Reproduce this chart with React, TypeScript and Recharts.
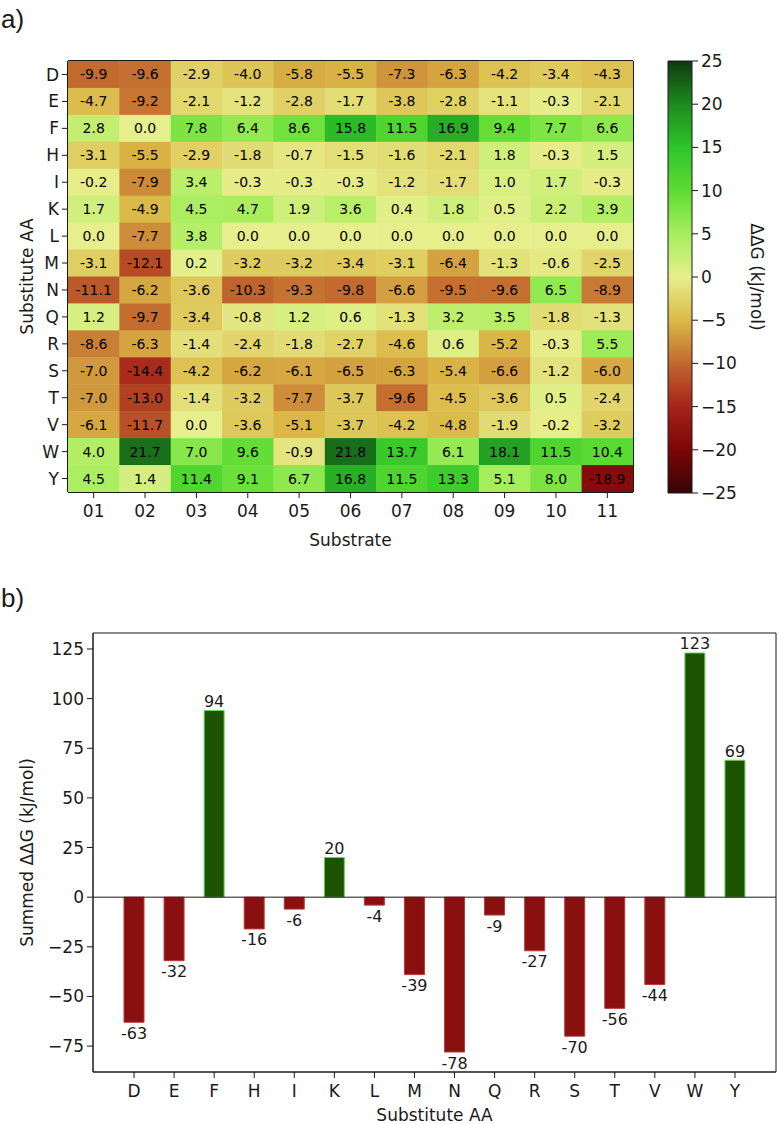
import {
  ScatterChart,
  Scatter,
  BarChart,
  Bar,
  Cell,
  LabelList,
  XAxis,
  YAxis,
  CartesianGrid,
  ReferenceLine,
} from "recharts";

const SUBSTRATES = ["01", "02", "03", "04", "05", "06", "07", "08", "09", "10", "11"];
const AMINO_ACIDS = ["D", "E", "F", "H", "I", "K", "L", "M", "N", "Q", "R", "S", "T", "V", "W", "Y"];

// ΔΔG (kJ/mol), one row per substitute AA, one column per substrate
const DDG_ROWS: number[][] = [
  [-9.9, -9.6, -2.9, -4.0, -5.8, -5.5, -7.3, -6.3, -4.2, -3.4, -4.3],
  [-4.7, -9.2, -2.1, -1.2, -2.8, -1.7, -3.8, -2.8, -1.1, -0.3, -2.1],
  [2.8, 0.0, 7.8, 6.4, 8.6, 15.8, 11.5, 16.9, 9.4, 7.7, 6.6],
  [-3.1, -5.5, -2.9, -1.8, -0.7, -1.5, -1.6, -2.1, 1.8, -0.3, 1.5],
  [-0.2, -7.9, 3.4, -0.3, -0.3, -0.3, -1.2, -1.7, 1.0, 1.7, -0.3],
  [1.7, -4.9, 4.5, 4.7, 1.9, 3.6, 0.4, 1.8, 0.5, 2.2, 3.9],
  [0.0, -7.7, 3.8, 0.0, 0.0, 0.0, 0.0, 0.0, 0.0, 0.0, 0.0],
  [-3.1, -12.1, 0.2, -3.2, -3.2, -3.4, -3.1, -6.4, -1.3, -0.6, -2.5],
  [-11.1, -6.2, -3.6, -10.3, -9.3, -9.8, -6.6, -9.5, -9.6, 6.5, -8.9],
  [1.2, -9.7, -3.4, -0.8, 1.2, 0.6, -1.3, 3.2, 3.5, -1.8, -1.3],
  [-8.6, -6.3, -1.4, -2.4, -1.8, -2.7, -4.6, 0.6, -5.2, -0.3, 5.5],
  [-7.0, -14.4, -4.2, -6.2, -6.1, -6.5, -6.3, -5.4, -6.6, -1.2, -6.0],
  [-7.0, -13.0, -1.4, -3.2, -7.7, -3.7, -9.6, -4.5, -3.6, 0.5, -2.4],
  [-6.1, -11.7, 0.0, -3.6, -5.1, -3.7, -4.2, -4.8, -1.9, -0.2, -3.2],
  [4.0, 21.7, 7.0, 9.6, -0.9, 21.8, 13.7, 6.1, 18.1, 11.5, 10.4],
  [4.5, 1.4, 11.4, 9.1, 6.7, 16.8, 11.5, 13.3, 5.1, 8.0, -18.9],
];

const SUMMED = [-63, -32, 94, -16, -6, 20, -4, -39, -78, -9, -27, -70, -56, -44, 123, 69];

const COLORBAR_TICKS = [-25, -20, -15, -10, -5, 0, 5, 10, 15, 20, 25];
const COLORBAR_RANGE = [{ name: "ΔΔG", range: [-25, 25] }];
const BAR_TICKS = [-75, -50, -25, 0, 25, 50, 75, 100, 125];
const BAR_DOMAIN = [-88.05, 133.05];

// red -> yellow -> green colormap
const COLOR_STOPS: [number, string][] = [
  [-25, "#360404"],
  [-20, "#7c0606"],
  [-15, "#a6231a"],
  [-10, "#c2682e"],
  [-5, "#dbb948"],
  [0, "#e6ef8c"],
  [5, "#a6ee5c"],
  [10, "#5edc33"],
  [15, "#2ec42a"],
  [20, "#1e8a1e"],
  [25, "#0e3a12"],
];

const FONT = "'DejaVu Sans', sans-serif";
const INK = "#1a1a1a";

function hexToRgb(hex: string) {
  const n = parseInt(hex.slice(1), 16);
  return [(n >> 16) & 255, (n >> 8) & 255, n & 255];
}

function ddgColor(v: number) {
  const c = Math.max(-25, Math.min(25, v));
  for (let i = 0; i < COLOR_STOPS.length - 1; i++) {
    const [a, ca] = COLOR_STOPS[i];
    const [b, cb] = COLOR_STOPS[i + 1];
    if (c >= a && c <= b) {
      const t = (c - a) / (b - a);
      const ra = hexToRgb(ca);
      const rb = hexToRgb(cb);
      const mix = ra.map((x, k) => Math.round(x + (rb[k] - x) * t));
      return `rgb(${mix[0]},${mix[1]},${mix[2]})`;
    }
  }
  return COLOR_STOPS[0][1];
}

const minus = (v: number) => (v < 0 ? `\u2212${-v}` : `${v}`);

const heatData = DDG_ROWS.flatMap((row, r) => row.map((v, c) => ({ x: c, y: r, v })));
const barData = AMINO_ACIDS.map((aa, i) => ({ aa, total: SUMMED[i] }));

// heatmap layout
const HM_W = 779;
const HM_H = 560;
const HM_MARGIN = { top: 61, right: 146, bottom: 16, left: 0 };
const HM_YAXIS_W = 68;
const HM_XAXIS_H = 52;
const CELL_W = (HM_W - HM_MARGIN.left - HM_MARGIN.right - HM_YAXIS_W) / SUBSTRATES.length;
const CELL_H = (HM_H - HM_MARGIN.top - HM_MARGIN.bottom - HM_XAXIS_H) / AMINO_ACIDS.length;

const tickStyle = { fontSize: 17, fill: INK, fontFamily: FONT };
const titleStyle = { fontSize: 17, fill: INK, fontFamily: FONT, textAnchor: "middle" as const };

// frame lines around the plot area
const frameH = ({ offset }: any) => [offset.top, offset.top + offset.height];
const frameV = ({ offset }: any) => [offset.left, offset.left + offset.width];

function HeatCell(props: any) {
  const { cx, cy, payload } = props;
  return (
    <g>
      <rect
        x={cx - CELL_W / 2}
        y={cy - CELL_H / 2}
        width={CELL_W + 0.5}
        height={CELL_H + 0.5}
        fill={ddgColor(payload.v)}
      />
      <text
        x={cx}
        y={cy}
        textAnchor="middle"
        dominantBaseline="central"
        fontSize={14}
        fill="#000"
        fontFamily={FONT}
      >
        {payload.v.toFixed(1)}
      </text>
    </g>
  );
}

function BarValueLabel(props: any) {
  const { x, y, width, height, value } = props;
  const top = Math.min(y, y + height);
  const bottom = Math.max(y, y + height);
  const neg = value < 0;
  return (
    <text
      x={x + width / 2}
      y={neg ? bottom + 11 : top - 9}
      textAnchor="middle"
      dominantBaseline="central"
      fontSize={16}
      fill={INK}
      fontFamily={FONT}
    >
      {String(value)}
    </text>
  );
}

function PanelTag({ text, top }: { text: string; top: number }) {
  return (
    <div
      style={{
        position: "absolute",
        left: 1,
        top,
        fontSize: 26,
        fontFamily: "'Liberation Sans', Arial, sans-serif",
        color: INK,
        lineHeight: 1,
      }}
    >
      {text}
    </div>
  );
}

export default function App() {
  return (
    <div
      style={{
        position: "absolute",
        left: 0,
        top: 0,
        width: 779,
        height: 1124,
        background: "#fff",
        fontFamily: FONT,
        overflow: "hidden",
      }}
    >
      <PanelTag text="a)" top={6} />
      <PanelTag text="b)" top={585} />

      <div style={{ position: "absolute", left: 0, top: 0 }}>
        <ScatterChart width={HM_W} height={HM_H} margin={HM_MARGIN}>
          <CartesianGrid
            stroke={INK}
            strokeWidth={2}
            horizontalCoordinatesGenerator={frameH}
            verticalCoordinatesGenerator={frameV}
          />
          <XAxis
            dataKey="x"
            type="number"
            domain={[-0.5, SUBSTRATES.length - 0.5]}
            ticks={SUBSTRATES.map((_, i) => i)}
            tickFormatter={(i: number) => SUBSTRATES[i]}
            interval={0}
            allowDataOverflow
            height={HM_XAXIS_H}
            tick={tickStyle}
            tickSize={6}
            tickMargin={7}
            tickLine={{ stroke: INK }}
            axisLine={{ stroke: INK }}
            label={{ value: "Substrate", position: "insideBottom", offset: -2, style: titleStyle }}
          />
          <YAxis
            dataKey="y"
            type="number"
            domain={[-0.5, AMINO_ACIDS.length - 0.5]}
            reversed
            ticks={AMINO_ACIDS.map((_, i) => i)}
            tickFormatter={(i: number) => AMINO_ACIDS[i]}
            interval={0}
            allowDataOverflow
            width={HM_YAXIS_W}
            tick={tickStyle}
            tickSize={6}
            tickMargin={3}
            tickLine={{ stroke: INK }}
            axisLine={{ stroke: INK }}
            label={{ value: "Substitute AA", angle: -90, position: "insideLeft", offset: 27, style: titleStyle }}
          />
          <Scatter data={heatData} shape={HeatCell} isAnimationActive={false} />
        </ScatterChart>
      </div>

      <div style={{ position: "absolute", left: 640, top: 0 }}>
        <BarChart
          width={139}
          height={HM_H}
          data={COLORBAR_RANGE}
          margin={{ top: 61, right: 0, bottom: 67, left: 28 }}
          barCategoryGap={0}
        >
          <defs>
            <linearGradient id="cbGrad" x1="0" y1="0" x2="0" y2="1">
              {[...COLOR_STOPS].reverse().map(([v, c]) => (
                <stop key={v} offset={(25 - v) / 50} stopColor={c} />
              ))}
            </linearGradient>
          </defs>
          <XAxis dataKey="name" hide />
          <YAxis
            orientation="right"
            type="number"
            domain={[-25, 25]}
            ticks={COLORBAR_TICKS}
            tickFormatter={minus}
            interval={0}
            width={87}
            tick={tickStyle}
            tickSize={6}
            tickMargin={3}
            tickLine={{ stroke: INK }}
            axisLine={false}
            label={{ value: "ΔΔG (kJ/mol)", angle: 90, position: "insideRight", offset: 22, style: titleStyle }}
          />
          <Bar dataKey="range" fill="url(#cbGrad)" stroke={INK} strokeWidth={1} isAnimationActive={false} />
        </BarChart>
      </div>

      <div style={{ position: "absolute", left: 0, top: 580 }}>
        <BarChart width={779} height={544} data={barData} margin={{ top: 53, right: 3, bottom: 6, left: 0 }}>
          <CartesianGrid
            stroke={INK}
            strokeWidth={1}
            horizontalCoordinatesGenerator={frameH}
            verticalCoordinatesGenerator={frameV}
          />
          <XAxis
            dataKey="aa"
            interval={0}
            padding={{ left: 21, right: 21 }}
            height={46}
            tick={tickStyle}
            tickSize={6}
            tickMargin={7}
            tickLine={{ stroke: INK }}
            axisLine={{ stroke: INK }}
            label={{ value: "Substitute AA", position: "insideBottom", offset: -3, style: titleStyle }}
          />
          <YAxis
            type="number"
            domain={BAR_DOMAIN}
            ticks={BAR_TICKS}
            tickFormatter={minus}
            interval={0}
            allowDataOverflow
            width={93}
            tick={tickStyle}
            tickSize={6}
            tickMargin={3}
            tickLine={{ stroke: INK }}
            axisLine={{ stroke: INK }}
            label={{ value: "Summed ΔΔG (kJ/mol)", angle: -90, position: "insideLeft", offset: 27, style: titleStyle }}
          />
          <ReferenceLine y={0} stroke={INK} strokeWidth={1} />
          <Bar dataKey="total" barSize={20} isAnimationActive={false}>
            {barData.map((d, i) => (
              <Cell
                key={`bar-${i}`}
                fill={d.total < 0 ? "#8a0f0f" : "#1c5300"}
                stroke={d.total < 0 ? "#b83a3a" : "#6cd45a"}
                strokeWidth={1}
              />
            ))}
            <LabelList dataKey="total" content={BarValueLabel} />
          </Bar>
        </BarChart>
      </div>
    </div>
  );
}
